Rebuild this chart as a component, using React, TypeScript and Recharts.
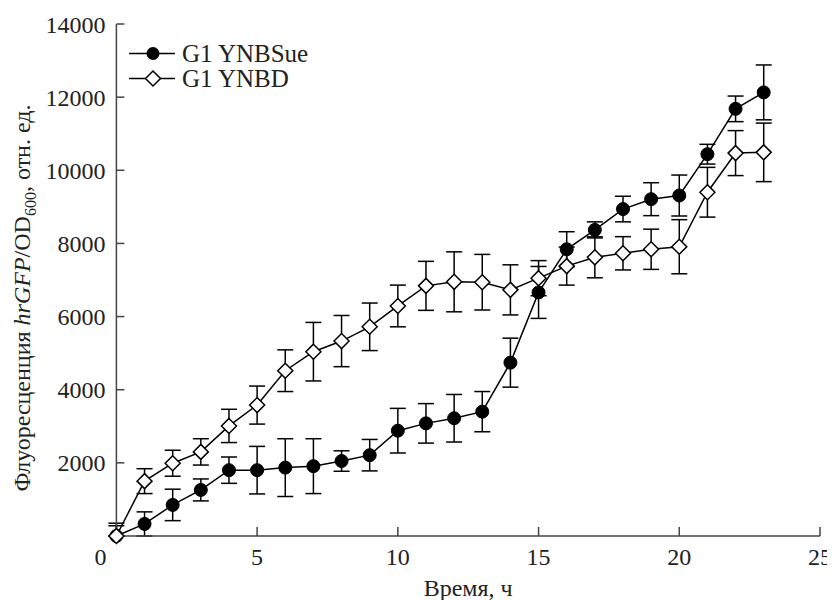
import React from 'react';
import { LineChart, Line, XAxis, YAxis, ErrorBar, Legend } from 'recharts';

const times = [0, 1, 2, 3, 4, 5, 6, 7, 8, 9, 10, 11, 12, 13, 14, 15, 16, 17, 18, 19, 20, 21, 22, 23];
const sueValues = [0, 330, 850, 1260, 1800, 1800, 1870, 1910, 2050, 2210, 2880, 3080, 3220, 3400, 4740, 6660, 7840, 8370, 8940, 9210, 9310, 10440, 11680, 12130];
const sueErrors = [350, 330, 430, 300, 360, 650, 790, 750, 280, 430, 610, 540, 650, 550, 670, 710, 480, 220, 350, 450, 560, 270, 350, 750];
const ynbdValues = [0, 1500, 1990, 2300, 3010, 3580, 4520, 5040, 5330, 5720, 6290, 6840, 6950, 6940, 6730, 7050, 7380, 7620, 7730, 7840, 7910, 9400, 10470, 10490];
const ynbdErrors = [280, 340, 355, 360, 455, 520, 570, 800, 700, 650, 570, 670, 820, 760, 685, 480, 520, 560, 455, 550, 740, 680, 615, 800];
const xTicks = [0, 5, 10, 15, 20, 25];
const yTicks = [2000, 4000, 6000, 8000, 10000, 12000, 14000];
const seriesNames = ['G1 YNBSue', 'G1 YNBD'];
const xTitle = 'Время, ч';

const data = times.map((t, i) => ({
  t,
  sue: sueValues[i],
  sueErr: [Math.min(sueErrors[i], sueValues[i] || 0), sueErrors[i]],
  ynbd: ynbdValues[i],
  ynbdErr: [Math.min(ynbdErrors[i], ynbdValues[i] || 0), ynbdErrors[i]],
}));

const FONT = "Liberation Serif, DejaVu Serif, serif";
const TEXT = '#222';
const AXIS = '#444';

const renderCircle = (props: any) => {
  const { cx, cy, index } = props;
  return <circle key={`c${index}`} cx={cx} cy={cy} r={6.5} fill="#000" stroke="#000" strokeWidth={1} />;
};

const renderDiamond = (props: any) => {
  const { cx, cy, index } = props;
  const s = 7.5;
  return (
    <path
      key={`d${index}`}
      d={`M${cx},${cy - s} L${cx + s},${cy} L${cx},${cy + s} L${cx - s},${cy} Z`}
      fill="#fff"
      stroke="#000"
      strokeWidth={1.5}
    />
  );
};

const XTick = (props: any) => {
  const { x, y, payload } = props;
  const shift = payload.value === 0 ? -16 : 0;
  return (
    <text x={x + shift} y={y} dy="0.71em" textAnchor="middle" style={{ fontFamily: FONT }} fontSize={24} fill={TEXT}>
      {payload.value}
    </text>
  );
};

const YTick = (props: any) => {
  const { x, y, payload } = props;
  return (
    <text x={x} y={y} dy="0.355em" textAnchor="end" style={{ fontFamily: FONT }} fontSize={24} fill={TEXT}>
      {payload.value}
    </text>
  );
};

const XLabel = (props: any) => {
  const vb = props.viewBox || { x: 108, y: 528, width: 704, height: 64 };
  return (
    <text
      x={vb.x + vb.width / 2}
      y={vb.y + vb.height - 4}
      textAnchor="middle"
      style={{ fontFamily: FONT }}
      fontSize={24}
      fill={TEXT}
    >
      {xTitle}
    </text>
  );
};

const YLabel = (props: any) => {
  const vb = props.viewBox || { x: 0, y: 16, width: 108, height: 512 };
  const cx = vb.x + 22;
  const cy = vb.y + vb.height / 2 + 18;
  return (
    <text
      transform={`translate(${cx}, ${cy}) rotate(-90)`}
      textAnchor="middle"
      style={{ fontFamily: FONT }}
      fontSize={24}
      fill={TEXT}
    >
      <tspan>Флуоресценция </tspan>
      <tspan fontStyle="italic">hrGFP</tspan>
      <tspan>/OD</tspan>
      <tspan dy={6} fontSize={16}>600</tspan>
      <tspan dy={-6}>, отн. ед.</tspan>
    </text>
  );
};

const LegendContent = () => (
  <div style={{ fontFamily: FONT, fontSize: 25, color: TEXT, lineHeight: '25px' }}>
    {seriesNames.map((name, i) => (
      <div key={name} style={{ display: 'flex', alignItems: 'center', height: 25 }}>
        <svg width={54} height={25} style={{ display: 'block' }}>
          <line x1={1} y1={12.5} x2={47} y2={12.5} stroke="#000" strokeWidth={1.5} />
          {i === 0 ? (
            <circle cx={25} cy={12.5} r={6.5} fill="#000" />
          ) : (
            <path d="M25,5 L32.5,12.5 L25,20 L17.5,12.5 Z" fill="#fff" stroke="#000" strokeWidth={1.5} />
          )}
        </svg>
        <span style={{ marginLeft: 0, whiteSpace: 'nowrap' }}>{name}</span>
      </div>
    ))}
  </div>
);

export default function App() {
  return (
    <LineChart width={827} height={592} data={data} margin={{ top: 16, right: 15, bottom: 0, left: 0 }} style={{ fontFamily: FONT }}>
      <XAxis
        dataKey="t"
        type="number"
        domain={[0, 25]}
        ticks={xTicks}
        interval={0}
        height={64}
        stroke={AXIS}
        strokeWidth={1.5}
        tickSize={-9}
        tickMargin={21}
        tick={<XTick />}
        label={<XLabel />}
      />
      <YAxis
        type="number"
        domain={[0, 14000]}
        ticks={yTicks}
        interval={0}
        width={108.4}
        stroke={AXIS}
        strokeWidth={1.5}
        tickSize={-8}
        tickMargin={19}
        tick={<YTick />}
        label={<YLabel />}
      />
      <Legend
        layout="vertical"
        align="center"
        verticalAlign="middle"
        content={<LegendContent />}
        wrapperStyle={{ position: 'absolute', left: 120, top: 33, width: 'auto', height: 'auto' }}
      />
      <Line
        dataKey="sue"
        name={seriesNames[0]}
        type="linear"
        stroke="#000"
        strokeWidth={1.5}
        dot={renderCircle}
        activeDot={false}
        isAnimationActive={false}
      >
        <ErrorBar dataKey="sueErr" width={8} stroke="#000" strokeWidth={1.5} direction="y" />
      </Line>
      <Line
        dataKey="ynbd"
        name={seriesNames[1]}
        type="linear"
        stroke="#000"
        strokeWidth={1.5}
        dot={renderDiamond}
        activeDot={false}
        isAnimationActive={false}
      >
        <ErrorBar dataKey="ynbdErr" width={8} stroke="#000" strokeWidth={1.5} direction="y" />
      </Line>
    </LineChart>
  );
}
